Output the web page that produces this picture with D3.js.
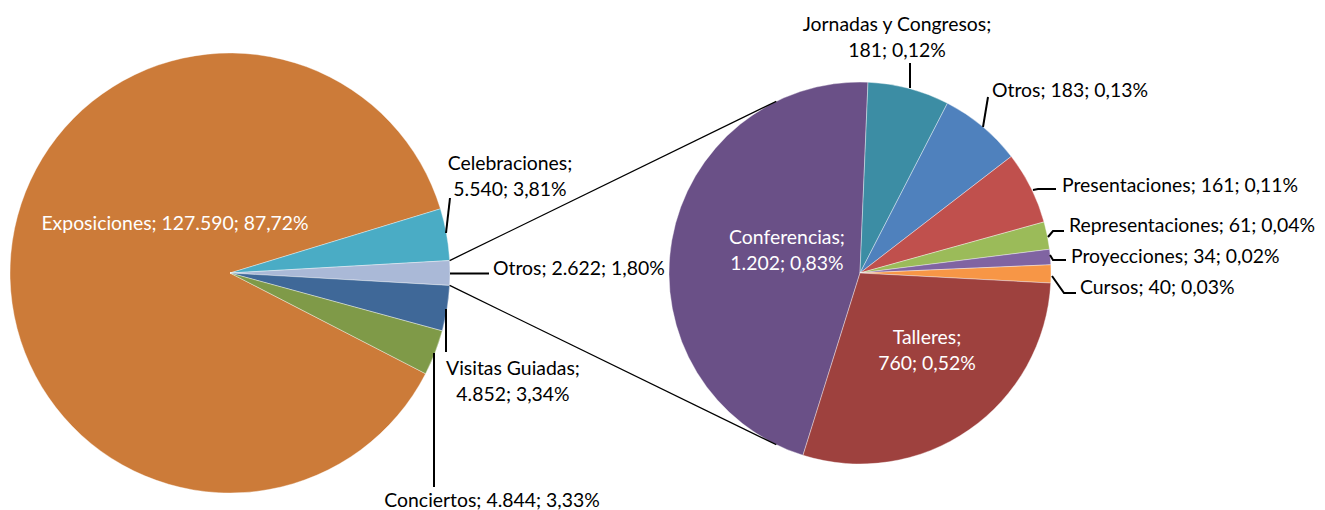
<!DOCTYPE html>
<html>
<head>
<meta charset="utf-8">
<script src="https://cdn.jsdelivr.net/npm/d3@7"></script>
<style>
  body { margin: 0; background: #fff; }
  text { font-family: Lato, "Noto Sans", sans-serif; font-size: 19.4px; }
</style>
</head>
<body>
<script>
// main pie data
var mainNames = ["Exposiciones", "Celebraciones", "Otros", "Visitas Guiadas", "Conciertos"]
var mainValues = [127590, 5540, 2622, 4852, 4844]
var mainColors = ["#cc7b39", "#4aacc5", "#aab9d7", "#3f6898", "#7f9a48"]

// secondary pie data (breakdown of "Otros")
var subNames = ["Conferencias", "Jornadas y Congresos", "Otros", "Presentaciones", "Representaciones", "Proyecciones", "Cursos", "Talleres"]
var subValues = [1202, 181, 183, 161, 61, 34, 40, 760]
var subColors = ["#6a5087", "#3c8da4", "#4f81bd", "#c0504d", "#9bbb59", "#8064a2", "#f79646", "#9e413e"]

var W = 1325, H = 510
var svg = d3.select("body").append("svg").attr("width", W).attr("height", H)

var loc = d3.formatLocale({decimal: ",", thousands: ".", grouping: [3], currency: ["", ""]})
var fmtNum = loc.format(",d")
var fmtPct = loc.format(".2%")

var total = d3.sum(mainValues)
var deg = Math.PI / 180

// main pie geometry
var c1 = {x: 230, y: 273}, r1 = 220
var otrosIdx = 2
var before = d3.sum(mainValues.slice(0, otrosIdx)) + mainValues[otrosIdx] / 2
var start1 = Math.PI / 2 - 2 * Math.PI * before / total

var pie1 = d3.pie().sort(null).startAngle(start1).endAngle(start1 + 2 * Math.PI)
var arcs1 = pie1(mainValues)
var arc1 = d3.arc().innerRadius(0).outerRadius(r1)

var g1 = svg.append("g").attr("transform", "translate(" + c1.x + "," + c1.y + ")")
g1.selectAll("path").data(arcs1).enter().append("path")
  .attr("d", arc1)
  .attr("fill", function(d, i) { return mainColors[i] })
  .attr("stroke", "#fff")
  .attr("stroke-opacity", 0.5)
  .attr("stroke-width", 0.75)

// secondary pie geometry
var c2 = {x: 860, y: 273}, r2 = 191
var start2 = 2.4 * deg - 2 * Math.PI * subValues[0] / d3.sum(subValues)
var pie2 = d3.pie().sort(null).startAngle(start2).endAngle(start2 + 2 * Math.PI)
var arcs2 = pie2(subValues)
var arc2 = d3.arc().innerRadius(0).outerRadius(r2)

var g2 = svg.append("g").attr("transform", "translate(" + c2.x + "," + c2.y + ")")
g2.selectAll("path").data(arcs2).enter().append("path")
  .attr("d", arc2)
  .attr("fill", function(d, i) { return subColors[i] })
  .attr("stroke", "#fff")
  .attr("stroke-opacity", 0.5)
  .attr("stroke-width", 0.75)

// connector lines: from the edges of "Otros" in the main pie, tangent to the secondary pie
function polar(c, r, a) { return [c.x + r * Math.sin(a), c.y - r * Math.cos(a)] }
function tangent(p, side) {
  var dx = p[0] - c2.x, dy = p[1] - c2.y
  var d = Math.sqrt(dx * dx + dy * dy)
  var base = Math.atan2(dy, dx)
  var a = base + side * Math.acos(r2 / d)
  return [c2.x + r2 * Math.cos(a), c2.y + r2 * Math.sin(a)]
}
var oArc = arcs1[otrosIdx]
var pTop = polar(c1, r1, oArc.startAngle)
var pBot = polar(c1, r1, oArc.endAngle)
svg.append("line").attr("x1", pTop[0]).attr("y1", pTop[1])
  .attr("x2", tangent(pTop, 1)[0]).attr("y2", tangent(pTop, 1)[1])
  .attr("stroke", "#000").attr("stroke-width", 1.3)
svg.append("line").attr("x1", pBot[0]).attr("y1", pBot[1])
  .attr("x2", tangent(pBot, -1)[0]).attr("y2", tangent(pBot, -1)[1])
  .attr("stroke", "#000").attr("stroke-width", 1.3)

// leader lines
var leaders = [
  [[446, 233], [450, 198]],
  [[450, 273.5], [489, 273.5]],
  [[446, 309], [446, 352]],
  [[434, 353], [434, 487]],
  [[910, 88], [910, 63]],
  [[983, 127], [988, 97]],
  [[1033, 190], [1038, 189], [1056, 189]],
  [[1048, 237], [1053, 231], [1064, 231]],
  [[1050, 255], [1053, 260], [1066, 260]],
  [[1052, 276], [1064, 293], [1076, 293]]
]
svg.selectAll("path.leader").data(leaders).enter().append("path")
  .attr("class", "leader")
  .attr("d", d3.line())
  .attr("fill", "none")
  .attr("stroke", "#000")
  .attr("stroke-width", 2)

// labels: name, value, percent
function lines(name, v, split) {
  var a = name + ";", b = fmtNum(v) + "; " + fmtPct(v / total)
  return split ? [a, b] : [a + " " + b]
}
var mainLabelPos = [
  {x: 175, y: 223, anchor: "middle", fill: "#fff", split: false},
  {x: 510, y: 163, anchor: "middle", fill: "#000", split: true},
  {x: 493, y: 268, anchor: "start", fill: "#000", split: false},
  {x: 513, y: 368, anchor: "middle", fill: "#000", split: true},
  {x: 492, y: 500, anchor: "middle", fill: "#000", split: false}
]
var subLabelPos = [
  {x: 787, y: 237, anchor: "middle", fill: "#fff", split: true},
  {x: 897, y: 24, anchor: "middle", fill: "#000", split: true},
  {x: 992, y: 90, anchor: "start", fill: "#000", split: false},
  {x: 1062, y: 185, anchor: "start", fill: "#000", split: false},
  {x: 1069, y: 225, anchor: "start", fill: "#000", split: false},
  {x: 1071, y: 256, anchor: "start", fill: "#000", split: false},
  {x: 1080, y: 287, anchor: "start", fill: "#000", split: false},
  {x: 927, y: 337, anchor: "middle", fill: "#fff", split: true}
]

function addLabels(names, values, pos) {
  names.forEach(function(n, i) {
    var p = pos[i]
    var t = svg.append("text")
      .attr("x", p.x).attr("y", p.y)
      .attr("text-anchor", p.anchor)
      .attr("fill", p.fill)
    lines(n, values[i], p.split).forEach(function(s, j) {
      t.append("tspan").attr("x", p.x).attr("y", p.y + j * 26).attr("dy", "0.35em").text(s)
    })
  })
}
addLabels(mainNames, mainValues, mainLabelPos)
addLabels(subNames, subValues, subLabelPos)
</script>
</body>
</html>
